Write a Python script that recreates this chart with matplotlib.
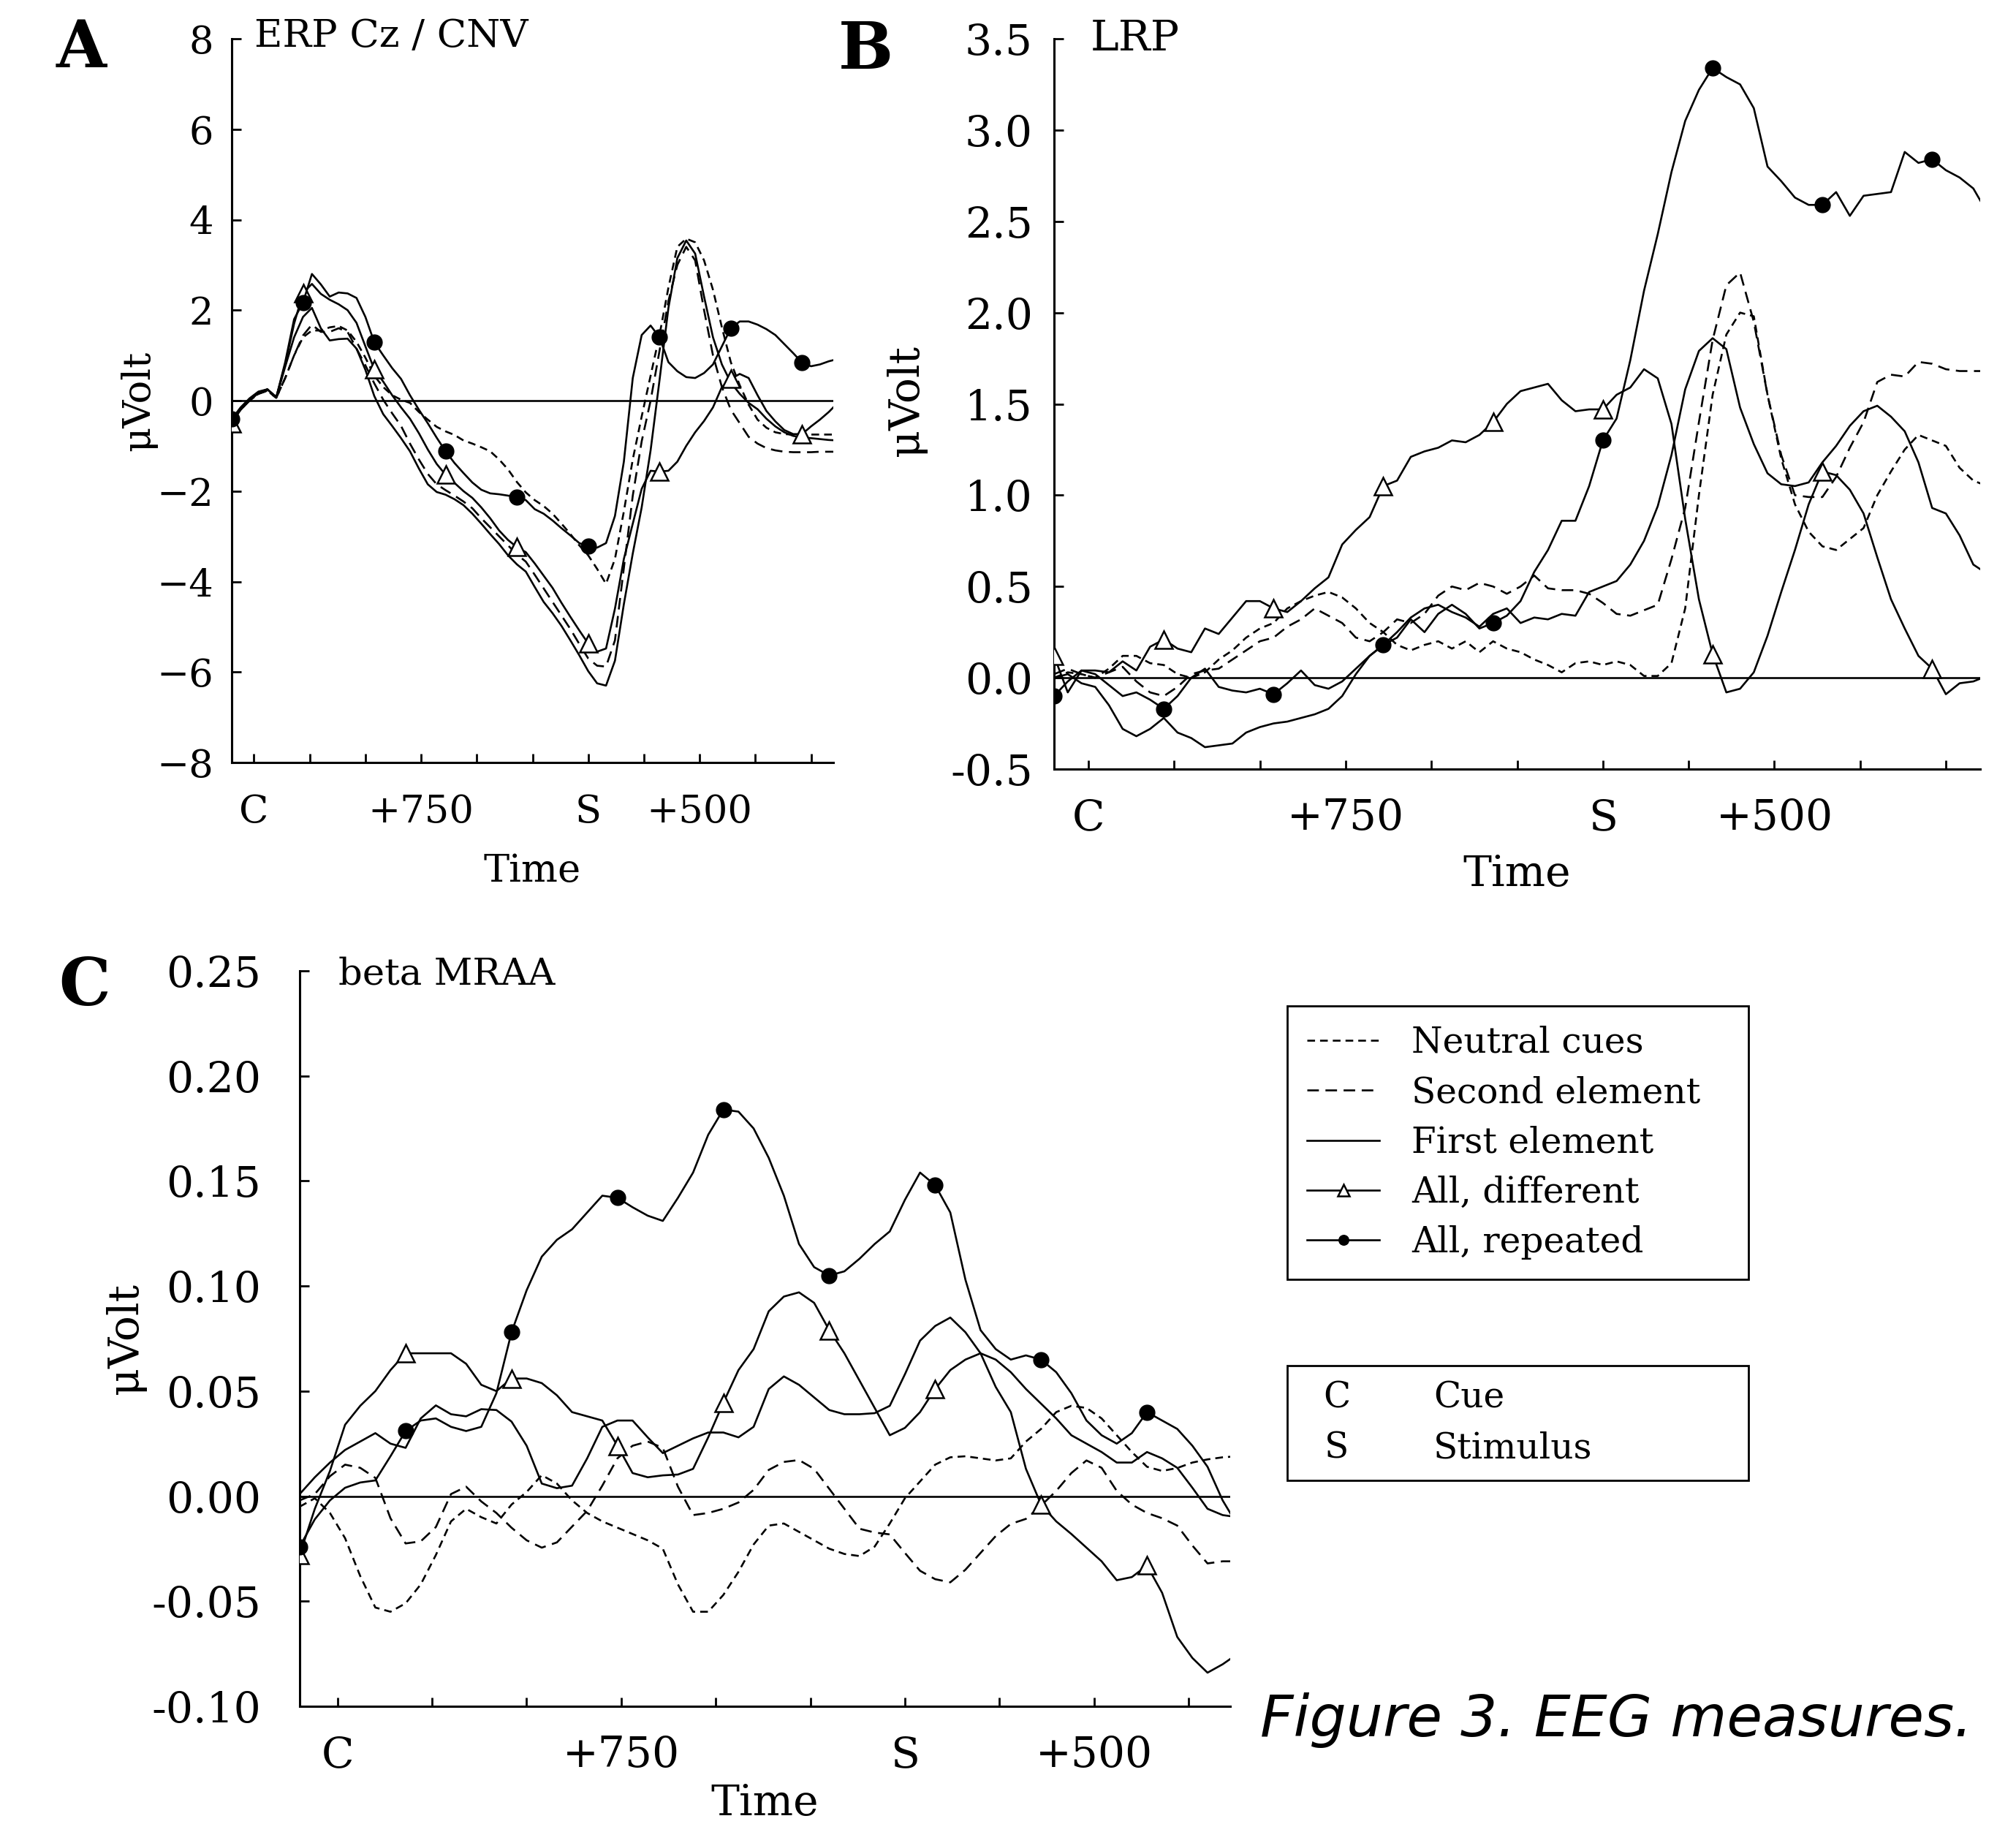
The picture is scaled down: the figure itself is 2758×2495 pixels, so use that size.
import numpy as np
import matplotlib
matplotlib.use("Agg")
import matplotlib.pyplot as plt
from matplotlib import font_manager as fm
from matplotlib.patches import Rectangle

# ---------------- data ----------------
# time in ms relative to cue; S (stimulus) at 1500
ab_time = np.arange(-100, 2621, 40)
c_time = np.arange(-100, 2381, 40)

# Panel A: ERP Cz / CNV (uV)
a_neutral = [-0.45, -0.2, 0.0, 0.15, 0.22, 0.06, 0.5, 1.0, 1.4, 1.55, 1.55, 1.62, 1.65, 1.55, 1.3, 0.95,
             0.55, 0.3, 0.12, 0.02, -0.05, -0.25, -0.42, -0.58, -0.68, -0.76, -0.88, -0.95, -1.03, -1.12,
             -1.3, -1.52, -1.8, -2.03, -2.2, -2.33, -2.5, -2.72, -2.95, -3.2, -3.42, -3.72, -4.05, -3.5,
             -2.45, -1.3, -0.35, 0.55, 1.45, 2.5, 3.4, 3.58, 3.5, 3.1, 2.45, 1.62, 0.85, 0.34, -0.09,
             -0.42, -0.6, -0.7, -0.74, -0.75, -0.75, -0.75, -0.75, -0.75, -0.75]
a_second = [-0.45, -0.2, 0.0, 0.15, 0.22, 0.06, 0.5, 1.0, 1.44, 1.68, 1.52, 1.52, 1.6, 1.52, 1.15, 0.78,
            0.38, 0.02, -0.28, -0.56, -0.95, -1.3, -1.62, -1.85, -1.98, -2.1, -2.23, -2.38, -2.6, -2.8,
            -3.0, -3.2, -3.4, -3.56, -3.85, -4.15, -4.45, -4.75, -5.05, -5.38, -5.7, -5.86, -5.88, -5.3,
            -3.7, -2.1, -0.9, 0.0, 1.1, 2.2, 3.0, 3.4, 3.1, 2.0, 1.0, 0.3, -0.2, -0.5, -0.8, -0.95,
            -1.05, -1.1, -1.13, -1.14, -1.14, -1.14, -1.13, -1.13, -1.13]
a_first = [-0.45, -0.2, 0.0, 0.17, 0.25, 0.07, 0.75, 1.4, 1.85, 2.05, 1.6, 1.33, 1.36, 1.37, 1.15, 0.68,
           0.1, -0.3, -0.56, -0.83, -1.12, -1.5, -1.85, -2.02, -2.08, -2.18, -2.31, -2.5, -2.72, -2.95,
           -3.17, -3.42, -3.62, -3.78, -4.12, -4.45, -4.7, -4.98, -5.3, -5.63, -5.98, -6.25, -6.3, -5.75,
           -4.5, -3.38, -2.36, -1.1, 0.45, 2.05, 3.15, 3.54, 3.25, 2.3, 1.4, 0.8, 0.4, 0.15, -0.05,
           -0.19, -0.4, -0.57, -0.7, -0.78, -0.81, -0.83, -0.85, -0.87, -0.88]
a_diff = [-0.5, -0.2, 0.02, 0.17, 0.25, 0.08, 0.8, 1.7, 2.38, 2.58, 2.36, 2.23, 2.13, 2.0, 1.72, 1.2,
          0.69, 0.42, 0.12, -0.15, -0.4, -0.72, -1.08, -1.4, -1.64, -1.82, -2.0, -2.15, -2.36, -2.6,
          -2.87, -3.08, -3.24, -3.35, -3.6, -3.87, -4.14, -4.47, -4.78, -5.08, -5.37, -5.55, -5.48, -4.6,
          -3.5, -2.72, -1.95, -1.55, -1.57, -1.55, -1.35, -1.0, -0.7, -0.45, -0.15, 0.3, 0.48, 0.59, 0.5,
          0.12, -0.23, -0.46, -0.65, -0.74, -0.74, -0.57, -0.42, -0.25, -0.05]
a_rep = [-0.41, -0.15, 0.05, 0.2, 0.25, 0.07, 0.85, 1.8, 2.17, 2.8, 2.57, 2.3, 2.39, 2.37, 2.27, 1.85,
         1.29, 1.0, 0.72, 0.48, 0.12, -0.2, -0.5, -0.82, -1.12, -1.38, -1.6, -1.81, -1.97, -2.05, -2.07,
         -2.1, -2.13, -2.2, -2.4, -2.5, -2.65, -2.82, -2.98, -3.15, -3.22, -3.25, -3.15, -2.55, -1.35,
         0.5, 1.45, 1.66, 1.4, 0.85, 0.65, 0.52, 0.5, 0.61, 0.8, 1.2, 1.6, 1.75, 1.75, 1.68, 1.58, 1.45,
         1.25, 1.05, 0.84, 0.76, 0.8, 0.87, 0.92]

# Panel B: LRP (uV)
b_neutral = [0.0, 0.03, 0.02, 0.0, 0.05, 0.12, 0.12, 0.08, 0.07, 0.02, 0.0, 0.03, 0.1, 0.15, 0.22, 0.27,
             0.3, 0.38, 0.42, 0.45, 0.47, 0.44, 0.38, 0.3, 0.25, 0.18, 0.15, 0.18, 0.2, 0.16, 0.2, 0.14,
             0.2, 0.16, 0.14, 0.1, 0.07, 0.03, 0.08, 0.09, 0.07, 0.09, 0.07, 0.01, 0.01, 0.08, 0.38, 1.0,
             1.55, 1.88, 2.0, 1.98, 1.55, 1.2, 0.95, 0.8, 0.72, 0.7, 0.76, 0.82, 1.0, 1.13, 1.25, 1.33,
             1.3, 1.27, 1.15, 1.08, 1.05]
b_second = [0.02, 0.05, 0.02, 0.0, 0.03, 0.06, -0.02, -0.08, -0.1, -0.05, 0.02, 0.04, 0.05, 0.1, 0.15,
            0.2, 0.22, 0.28, 0.32, 0.38, 0.34, 0.3, 0.22, 0.2, 0.25, 0.32, 0.3, 0.35, 0.45, 0.5, 0.48,
            0.52, 0.5, 0.46, 0.5, 0.56, 0.49, 0.48, 0.48, 0.46, 0.41, 0.35, 0.34, 0.37, 0.40, 0.65, 0.93,
            1.4, 1.85, 2.15, 2.22, 1.95, 1.55, 1.22, 1.0, 0.99, 0.99, 1.1, 1.26, 1.4, 1.62, 1.66, 1.65,
            1.73, 1.72, 1.69, 1.68, 1.68, 1.68]
b_first = [0.0, 0.02, -0.03, -0.05, -0.15, -0.28, -0.32, -0.28, -0.22, -0.3, -0.33, -0.38, -0.37, -0.36,
           -0.3, -0.27, -0.25, -0.24, -0.22, -0.2, -0.17, -0.1, 0.02, 0.12, 0.18, 0.25, 0.33, 0.38, 0.40,
           0.36, 0.33, 0.28, 0.35, 0.38, 0.30, 0.33, 0.32, 0.35, 0.34, 0.47, 0.50, 0.53, 0.62, 0.75,
           0.94, 1.22, 1.58, 1.79, 1.86, 1.80, 1.48, 1.28, 1.12, 1.06, 1.05, 1.07, 1.18, 1.27, 1.38,
           1.46, 1.49, 1.43, 1.35, 1.18, 0.93, 0.90, 0.78, 0.62, 0.57]
b_diff = [0.12, -0.08, 0.04, 0.04, 0.03, 0.09, 0.04, 0.17, 0.21, 0.16, 0.14, 0.27, 0.24, 0.33, 0.42, 0.42,
          0.38, 0.36, 0.42, 0.49, 0.55, 0.73, 0.81, 0.88, 1.05, 1.08, 1.21, 1.24, 1.26, 1.30, 1.29, 1.33,
          1.40, 1.5, 1.57, 1.59, 1.61, 1.52, 1.46, 1.47, 1.47, 1.55, 1.59, 1.69, 1.64, 1.39, 0.87, 0.43,
          0.13, -0.08, -0.06, 0.03, 0.23, 0.47, 0.70, 0.95, 1.13, 1.11, 1.03, 0.90, 0.66, 0.43, 0.27,
          0.12, 0.05, -0.09, -0.03, -0.02, 0.01]
b_rep = [-0.10, -0.02, 0.04, 0.02, -0.04, -0.1, -0.08, -0.12, -0.17, -0.1, 0.0, 0.05, -0.05, -0.07, -0.08,
         -0.06, -0.09, -0.03, 0.04, -0.04, -0.06, -0.02, 0.05, 0.12, 0.18, 0.22, 0.32, 0.25, 0.35, 0.4,
         0.35, 0.27, 0.30, 0.34, 0.42, 0.58, 0.7, 0.86, 0.86, 1.05, 1.30, 1.42, 1.74, 2.12, 2.43, 2.77,
         3.05, 3.22, 3.34, 3.29, 3.25, 3.12, 2.8, 2.72, 2.63, 2.59, 2.59, 2.66, 2.53, 2.64, 2.65, 2.66,
         2.88, 2.82, 2.84, 2.78, 2.74, 2.68, 2.55]

# Panel C: beta MRAA
c_neutral = [-0.005, -0.001, -0.008, -0.02, -0.038, -0.053, -0.055, -0.051, -0.042, -0.028, -0.012,
             -0.006, -0.010, -0.013, -0.004, 0.002, 0.010, 0.006, -0.002, -0.008, -0.012, -0.015, -0.018,
             -0.021, -0.025, -0.042, -0.055, -0.055, -0.047, -0.036, -0.023, -0.014, -0.013, -0.017,
             -0.021, -0.025, -0.0275, -0.0285, -0.024, -0.013, -0.001, 0.007, 0.015, 0.0185, 0.019,
             0.018, 0.017, 0.018, 0.026, 0.032, 0.040, 0.043, 0.042, 0.037, 0.029, 0.021, 0.014, 0.012,
             0.0134, 0.016, 0.0175, 0.0185, 0.019]
c_second = [-0.002, 0.001, 0.0095, 0.015, 0.0135, 0.0087, -0.0105, -0.0225, -0.0215, -0.0147, 0.001,
            0.0045, -0.0025, -0.008, -0.015, -0.021, -0.0245, -0.022, -0.0145, -0.007, 0.005, 0.018,
            0.024, 0.026, 0.023, 0.0045, -0.009, -0.008, -0.006, -0.003, 0.003, 0.0125, 0.0163, 0.0172,
            0.013, 0.0035, -0.006, -0.0155, -0.0173, -0.0182, -0.027, -0.0355, -0.0395, -0.041, -0.035,
            -0.027, -0.019, -0.0132, -0.0108, -0.0045, 0.0025, 0.011, 0.017, 0.0135, 0.0025, -0.004,
            -0.008, -0.0105, -0.014, -0.0235, -0.032, -0.031, -0.031]
c_first = [0.001, 0.009, 0.016, 0.022, 0.026, 0.030, 0.025, 0.023, 0.037, 0.0432, 0.039, 0.038, 0.0414,
           0.041, 0.0355, 0.024, 0.006, 0.0038, 0.005, 0.018, 0.033, 0.036, 0.036, 0.028, 0.0205, 0.024,
           0.0275, 0.0303, 0.0303, 0.028, 0.033, 0.051, 0.057, 0.053, 0.047, 0.041, 0.039, 0.039, 0.0395,
           0.043, 0.058, 0.074, 0.081, 0.085, 0.078, 0.068, 0.065, 0.059, 0.051, 0.044, 0.037, 0.029,
           0.025, 0.021, 0.016, 0.016, 0.021, 0.018, 0.0135, 0.004, -0.006, -0.009, -0.010]
c_diff = [-0.028, -0.006, 0.012, 0.034, 0.043, 0.05, 0.06, 0.068, 0.068, 0.068, 0.068, 0.063, 0.053, 0.05,
          0.056, 0.056, 0.0538, 0.048, 0.04, 0.038, 0.036, 0.024, 0.011, 0.009, 0.0099, 0.0103, 0.013,
          0.028, 0.0445, 0.06, 0.07, 0.088, 0.095, 0.097, 0.092, 0.079, 0.068, 0.055, 0.042, 0.029,
          0.0325, 0.04, 0.051, 0.06, 0.065, 0.068, 0.052, 0.040, 0.013, -0.004, -0.012, -0.018, -0.0245,
          -0.031, -0.040, -0.0385, -0.033, -0.046, -0.067, -0.077, -0.084, -0.080, -0.075]
c_rep = [-0.024, -0.011, -0.002, 0.004, 0.0065, 0.0075, 0.019, 0.031, 0.036, 0.037, 0.033, 0.031, 0.033,
         0.049, 0.078, 0.098, 0.114, 0.122, 0.127, 0.135, 0.143, 0.142, 0.1375, 0.1335, 0.131, 0.142,
         0.154, 0.172, 0.184, 0.183, 0.175, 0.161, 0.143, 0.12, 0.109, 0.105, 0.107, 0.113, 0.12, 0.126,
         0.141, 0.154, 0.148, 0.135, 0.103, 0.079, 0.070, 0.065, 0.067, 0.065, 0.059, 0.049, 0.036,
         0.029, 0.025, 0.03, 0.040, 0.036, 0.032, 0.024, 0.014, -0.002, -0.014]

legend_labels = ["Neutral cues", "Second element", "First element", "All, different", "All, repeated"]

xtick_pos_ab = [0, 250, 500, 750, 1000, 1250, 1500, 1750, 2000, 2250, 2500]
xtick_lab_ab = ["C", "", "", "+750", "", "", "S", "", "+500", "", ""]
xtick_pos_c = [0, 250, 500, 750, 1000, 1250, 1500, 1750, 2000, 2250]
xtick_lab_c = ["C", "", "", "+750", "", "", "S", "", "+500", ""]

a_yticks = [-8, -6, -4, -2, 0, 2, 4, 6, 8]
a_ylabels = ["\u22128", "\u22126", "\u22124", "\u22122", "0", "2", "4", "6", "8"]
b_yticks = [-0.5, 0.0, 0.5, 1.0, 1.5, 2.0, 2.5, 3.0, 3.5]
b_ylabels = ["-0.5", "0.0", "0.5", "1.0", "1.5", "2.0", "2.5", "3.0", "3.5"]
c_yticks = [-0.10, -0.05, 0.0, 0.05, 0.10, 0.15, 0.20, 0.25]
c_ylabels = ["-0.10", "-0.05", "0.00", "0.05", "0.10", "0.15", "0.20", "0.25"]

# ---------------- fonts ----------------
SERIF = "DejaVu Serif"
cond_family = None
for f in fm.fontManager.ttflist:
    if "SerifCondensed" in f.fname.replace("-", "") and "Bold" not in f.fname and "Italic" not in f.fname:
        cond_family = f.name
        break
if cond_family is not None:
    COND, COND_SIZE = cond_family, 42
else:
    COND, COND_SIZE = SERIF, 37

W, H = 2758, 2495
LW = 1.9
fig = plt.figure(figsize=(W / 100, H / 100), dpi=100)


def px_axes(l, t, r, b):
    return fig.add_axes([l / W, 1 - b / H, (r - l) / W, (b - t) / H])


def draw_panel(ax, t, neu, sec, fir, dif, rep, every):
    lines = []
    lines += ax.plot(t, neu, color="k", lw=LW, dashes=(4, 2.6))
    lines += ax.plot(t, sec, color="k", lw=LW, dashes=(6, 3.4))
    lines += ax.plot(t, fir, color="k", lw=LW)
    lines += ax.plot(t, dif, color="k", lw=LW, marker="^", ms=17, mfc="white", mec="k", mew=1.8,
                     markevery=every, zorder=3)
    lines += ax.plot(t, rep, color="k", lw=LW, marker="o", ms=15, mfc="k", mec="k",
                     markevery=every, zorder=4)
    ax.axhline(0, color="k", lw=LW, zorder=1)
    return lines


def style(ax, family, size, xpos, xlab, ypos, ylab, xpad, ypad):
    for s in ["top", "right"]:
        ax.spines[s].set_visible(False)
    for s in ["left", "bottom"]:
        ax.spines[s].set_linewidth(2.2)
    ax.set_xticks(xpos)
    ax.set_xticklabels(xlab)
    ax.set_yticks(ypos)
    ax.set_yticklabels(ylab)
    ax.tick_params(direction="in", length=9, width=2.0)
    ax.tick_params(axis="x", pad=xpad)
    ax.tick_params(axis="y", pad=ypad)
    for lab in ax.get_xticklabels() + ax.get_yticklabels():
        lab.set_fontfamily(family)
        lab.set_fontsize(size)


# Panel A
axA = px_axes(317, 53, 1140, 1043)
draw_panel(axA, ab_time, a_neutral, a_second, a_first, a_diff, a_rep, 8)
axA.set_xlim(-100, 2600)
axA.set_ylim(-8, 8)
style(axA, SERIF, 38, xtick_pos_ab, xtick_lab_ab, a_yticks, a_ylabels, 30, 18)
axA.set_xlabel("Time", fontfamily=SERIF, fontsize=38)
axA.set_ylabel("\u03bcVolt", fontfamily=SERIF, fontsize=38)
axA.xaxis.set_label_coords(0.5, -0.124)
axA.yaxis.set_label_coords(-0.124, 0.5)
axA.text(0.038, 1.004, "ERP Cz / CNV", transform=axA.transAxes, ha="left", va="center",
         fontfamily=SERIF, fontsize=38)

# Panel B
axB = px_axes(1442, 53, 2709, 1052)
draw_panel(axB, ab_time, b_neutral, b_second, b_first, b_diff, b_rep, 8)
axB.set_xlim(-100, 2600)
axB.set_ylim(-0.5, 3.5)
style(axB, COND, COND_SIZE, xtick_pos_ab, xtick_lab_ab, b_yticks, b_ylabels, 28, 21)
axB.set_xlabel("Time", fontfamily=COND, fontsize=COND_SIZE)
axB.set_ylabel("\u03bcVolt", fontfamily=COND, fontsize=COND_SIZE)
axB.xaxis.set_label_coords(0.5, -0.116)
axB.yaxis.set_label_coords(-0.137, 0.505)
axB.text(0.039, 1.0, "LRP", transform=axB.transAxes, ha="left", va="center",
         fontfamily=COND, fontsize=COND_SIZE)

# Panel C
axC = px_axes(410, 1328, 1683, 2334)
c_lines = draw_panel(axC, c_time, c_neutral, c_second, c_first, c_diff, c_rep, 7)
axC.set_xlim(-100, 2360)
axC.set_ylim(-0.10, 0.25)
style(axC, COND, COND_SIZE, xtick_pos_c, xtick_lab_c, c_yticks, c_ylabels, 28, 38)
axC.set_xlabel("Time", fontfamily=COND, fontsize=COND_SIZE)
axC.set_ylabel("\u03bcVolt", fontfamily=COND, fontsize=COND_SIZE)
axC.xaxis.set_label_coords(0.5, -0.104)
axC.yaxis.set_label_coords(-0.165, 0.5)
axC.text(0.042, 0.995, "beta MRAA", transform=axC.transAxes, ha="left", va="center",
         fontfamily=COND, fontsize=37)

# panel letters
for letter, (x, y) in zip("ABC", [(111, 67), (1184, 70), (116, 1351)]):
    fig.text(x / W, 1 - y / H, letter, ha="center", va="center", fontfamily=SERIF,
             fontweight="bold", fontsize=64)

# legend of conditions
leg = fig.legend(c_lines, legend_labels, loc="upper left",
                 bbox_to_anchor=(1761 / W, 1 - 1733 / H, 631 / W, 357 / H), mode="expand",
                 borderaxespad=0, frameon=True, fancybox=False, edgecolor="k", framealpha=1,
                 prop={"family": SERIF, "size": 35}, handlelength=2.05, handletextpad=0.9,
                 labelspacing=0.44, borderpad=0.55, markerscale=0.65)
leg.get_frame().set_linewidth(2.0)

# legend of event codes
fig.add_artist(Rectangle((1761 / W, 1 - 2025 / H), 631 / W, 157 / H, transform=fig.transFigure,
                         fill=False, lw=2.0, ec="k"))
for code, name, y in [("C", "Cue", 1912), ("S", "Stimulus", 1981)]:
    fig.text(1829 / W, 1 - y / H, code, ha="center", va="center", fontfamily=SERIF, fontsize=35)
    fig.text(1961 / W, 1 - y / H, name, ha="left", va="center", fontfamily=SERIF, fontsize=35)

fig.text(1724 / W, 1 - 2353 / H, "Figure 3. EEG measures.", ha="left", va="center",
         fontfamily="DejaVu Sans", fontstyle="italic", fontsize=57)

fig.savefig("out.png", dpi=100)
